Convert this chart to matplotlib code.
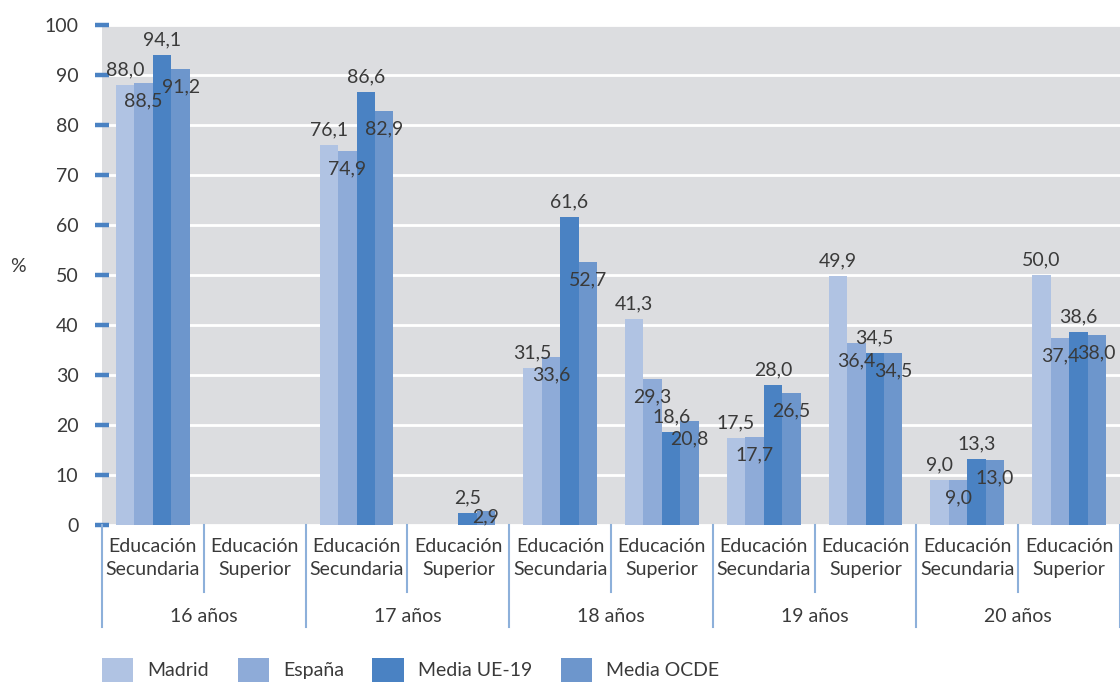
"""Tasa de escolarización por edad y nivel educativo."""
import numpy as np
from matplotlib import pyplot as plt
from matplotlib import transforms

# data
ages = ["16 años", "17 años", "18 años", "19 años", "20 años"]
levels = ["Educación\nSecundaria", "Educación\nSuperior"]
series_names = ["Madrid", "España", "Media UE-19", "Media OCDE"]
madrid = [88.0, np.nan, 76.1, np.nan, 31.5, 41.3, 17.5, 49.9, 9.0, 50.0]
espana = [88.5, np.nan, 74.9, np.nan, 33.6, 29.3, 17.7, 36.4, 9.0, 37.4]
media_ue19 = [94.1, np.nan, 86.6, 2.5, 61.6, 18.6, 28.0, 34.5, 13.3, 38.6]
media_ocde = [91.2, np.nan, 82.9, 2.9, 52.7, 20.8, 26.5, 34.5, 13.0, 38.0]

colors = ["#b0c3e3", "#8eabd8", "#4a82c3", "#6d96cc"]
text_color = "#3a3a3a"
line_blue = "#8db0da"
fs = 14

plt.rcParams["font.family"] = ["Lato", "DejaVu Sans"]
plt.rcParams["font.size"] = fs

fig = plt.figure(figsize=(11.2, 6.83), dpi=100)
ax = fig.add_axes([102 / 1120, 1 - 525 / 683, 1 - 102 / 1120, 500 / 683])
ax.set_facecolor("#dcdde0")

n_cat = len(madrid)
x = np.arange(n_cat)
bar_w = 0.1815
all_series = [madrid, espana, media_ue19, media_ocde]
for i, vals in enumerate(all_series):
    pos = x + (i - 1.5) * bar_w
    vals = np.array(vals, dtype=float)
    ax.bar(pos, vals, width=bar_w, color=colors[i], label=series_names[i], zorder=2)
    for px, v in zip(pos, vals):
        if np.isnan(v):
            continue
        # labels alternate above / below the bar top
        ly = v + 3.0 if i % 2 == 0 else max(v - 3.6, 1.6)
        ax.text(px, ly, f"{v:.1f}".replace(".", ","), ha="center", va="center",
                color=text_color, fontsize=fs, zorder=4)

ax.set_xlim(-0.5, n_cat - 0.5)
ax.set_ylim(0, 100)
ax.set_yticks(range(0, 101, 10))
ax.grid(axis="y", color="white", linewidth=2)
ax.set_axisbelow(True)
for s in ax.spines.values():
    s.set_visible(False)
ax.tick_params(axis="y", direction="inout", length=10, width=3.2, color="#4a82c3",
               pad=12, labelcolor=text_color, labelsize=fs)
ax.set_xticks([])
ax.set_ylabel("%", rotation=0, color=text_color, fontsize=fs, labelpad=0)
ax.yaxis.set_label_coords(-84 / 1018, 0.5)

# category axis below the plot
trans = transforms.blended_transform_factory(ax.transData, ax.transAxes)
for k in range(n_cat):
    ax.text(k, -0.066, levels[k % 2], transform=trans, ha="center", va="center",
            color=text_color, fontsize=fs, linespacing=1.45)
for k in range(n_cat + 1):
    depth = -0.204 if k % 2 == 0 else -0.134
    ax.plot([k - 0.5, k - 0.5], [0, depth], transform=trans, color=line_blue,
            linewidth=1.5, clip_on=False)
for g, age in enumerate(ages):
    ax.text(2 * g + 0.5, -0.182, age, transform=trans, ha="center", va="center",
            color=text_color, fontsize=fs)

fig.legend(loc="center left", bbox_to_anchor=(102 / 1120, 1 - 670 / 683), ncol=4,
           frameon=False, handlelength=1.6, handleheight=1.6, handletextpad=0.75,
           columnspacing=1.45, borderpad=0, borderaxespad=0, labelcolor=text_color)

fig.savefig("out.png", dpi=100)
